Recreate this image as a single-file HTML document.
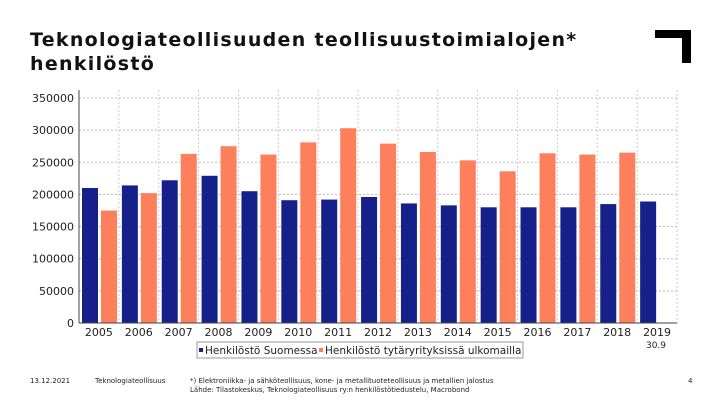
<!DOCTYPE html>
<html><head><meta charset="utf-8"><style>
body{margin:0;width:720px;height:405px;background:#fff;position:relative;overflow:hidden;font-family:"DejaVu Sans","Liberation Sans",sans-serif}
.t{position:absolute;left:30px;top:28px;font-size:19px;font-weight:bold;line-height:24px;color:#111;letter-spacing:1.3px}
.f{position:absolute;font-size:7px;color:#222;top:377px;line-height:9px}
</style></head><body>
<div class="t">Teknologiateollisuuden teollisuustoimialojen*<br>henkilöstö</div>
<svg style="position:absolute;left:655px;top:30px" width="36" height="33"><path d="M0 0H36V33H27V8H0Z" fill="#000"/></svg>
<svg id="c" width="720" height="370" style="position:absolute;left:0;top:0"></svg>
<div class="f" style="left:30px">13.12.2021</div>
<div class="f" style="left:95px">Teknologiateollisuus</div>
<div class="f" style="left:190px">*) Elektroniikka- ja sähköteollisuus, kone- ja metallituoteteollisuus ja metallien jalostus<br>Lähde: Tilastokeskus, Teknologiateollisuus ry:n henkilöstötiedustelu, Macrobond</div>
<div class="f" style="left:688px">4</div>
<script>
const years=["2005","2006","2007","2008","2009","2010","2011","2012","2013","2014","2015","2016","2017","2018","2019"];
const finland=[210000,214000,222000,229000,205000,191000,192000,196000,186000,183000,180000,180000,180000,185000,189000];
const abroad=[175000,202000,263000,275000,262000,281000,303000,279000,266000,253000,236000,264000,262000,265000,null];
const yTicks=[0,50000,100000,150000,200000,250000,300000,350000];
const ns="http://www.w3.org/2000/svg",svg=document.getElementById('c');
const L=79,R=677,T=98,B=323,cw=(R-L)/years.length;
const y=v=>B-(v/350000)*(B-T);
const x=i=>L+i*cw;
function mk(t,a,txt){const e=document.createElementNS(ns,t);for(const k in a)e.setAttribute(k,a[k]);if(txt!=null)e.textContent=txt;svg.appendChild(e);return e;}
yTicks.forEach(v=>{
 const g=mk('line',{x1:L,x2:R,y1:y(v),y2:y(v),stroke:'#bbb','stroke-dasharray':'2,2'});
 
 
 const t=mk('text',{x:L-5,y:y(v)+4,'text-anchor':'end','font-size':'11','font-family':'DejaVu Sans,sans-serif',fill:'#222'},v);
 
 
});
years.forEach((yr,i)=>{
 const g=mk('line',{x1:x(i)+cw,x2:x(i)+cw,y1:T-8,y2:B,stroke:'#ccc','stroke-dasharray':'2,2'});
 
 
 const b=mk('rect',{x:x(i)+3,y:y(finland[i]),width:16,height:B-y(finland[i]),fill:'#16208a'});
 
 
 if(abroad[i]!=null){
 const o=mk('rect',{x:x(i)+22,y:y(abroad[i]),width:16,height:B-y(abroad[i]),fill:'#fd7f5c'});
 
 }
 const t=mk('text',{x:x(i)+cw/2,y:B+13,'text-anchor':'middle','font-size':'11','font-family':'DejaVu Sans,sans-serif',fill:'#222'},yr);
 
 
});
const ax=mk('line',{x1:L,x2:R,y1:B,y2:B,stroke:'#444'});
const ay=mk('line',{x1:L,x2:L,y1:T-8,y2:B,stroke:'#444'});
const sub=mk('text',{x:656,y:348,'text-anchor':'middle','font-size':'9','font-family':'DejaVu Sans,sans-serif',fill:'#222'},'30.9');

const lb=mk('rect',{x:197,y:342,width:326,height:16,fill:'#fff',stroke:'#999'});
mk('rect',{x:199,y:348,width:4,height:4,fill:'#16208a'});
const l1=mk('text',{x:205,y:354,'font-size':'10.5','font-family':'DejaVu Sans,sans-serif',fill:'#222'},'Henkilöstö Suomessa');

mk('rect',{x:319,y:348,width:4,height:4,fill:'#fd7f5c'});
const l2=mk('text',{x:325,y:354,'font-size':'10.5','font-family':'DejaVu Sans,sans-serif',fill:'#222'},'Henkilöstö tytäryrityksissä ulkomailla');

</script>
</body></html>
